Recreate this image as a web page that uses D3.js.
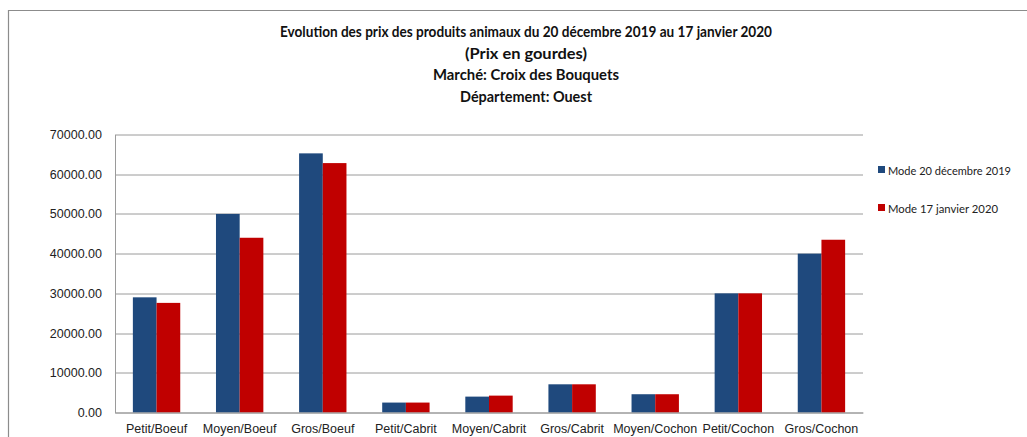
<!DOCTYPE html>
<html lang="fr">
<head>
<meta charset="UTF-8">
<script src="https://d3js.org/d3.v7.min.js"></script>
<style>
    body { margin: 0; background: #fff; }
    svg { display: block; font-family: Lato, "Open Sans", Arial, sans-serif; }
    .title { font-size: 14.5px; font-weight: bold; fill: #111; }
    .tick text { font-size: 12.5px; fill: #222; }
    .legend text { font-size: 12px; fill: #222; }
</style>
</head>
<body>
<div id="chart"></div>
<script>
    const categories = ["Petit/Boeuf", "Moyen/Boeuf", "Gros/Boeuf", "Petit/Cabrit", "Moyen/Cabrit",
        "Gros/Cabrit", "Moyen/Cochon", "Petit/Cochon", "Gros/Cochon"];
    const seriesNames = ["Mode 20 décembre 2019", "Mode 17 janvier 2020"];
    const dec2019 = [29000, 50000, 65250, 2500, 4000, 7100, 4600, 30000, 40000];
    const jan2020 = [27600, 44000, 62800, 2500, 4250, 7100, 4600, 30000, 43500];
    const yTicks = [0, 10000, 20000, 30000, 40000, 50000, 60000, 70000];
    const titleLines = [
        "Evolution des prix des produits animaux du 20 décembre 2019 au 17 janvier 2020",
        "(Prix en gourdes)",
        "Marché: Croix des Bouquets",
        "Département: Ouest"
    ];
    const colors = ["#1f497d", "#c00000"];

    const W = 1027, H = 437;
    const margin = {top: 134.5, left: 115, right: 164, bottom: 24.5};
    const width = W - margin.left - margin.right;
    const height = H - margin.top - margin.bottom;

    const svg = d3.select("#chart").append("svg")
        .attr("width", W)
        .attr("height", H);

    // outer frame
    svg.append("path")
        .attr("d", `M8.5,${H} V10.5 H${W}`)
        .attr("fill", "none")
        .attr("stroke", "#8c8c8c")
        .attr("stroke-width", 1.2);

    // titles
    const titleWidths = [492, 122, 186, 132];
    svg.selectAll(".title")
        .data(titleLines)
        .enter()
        .append("text")
        .attr("class", "title")
        .attr("x", 526)
        .attr("y", (d, i) => 37 + i * 21.5)
        .attr("text-anchor", "middle")
        .attr("textLength", (d, i) => titleWidths[i])
        .attr("lengthAdjust", "spacingAndGlyphs")
        .text(d => d);

    const g = svg.append("g")
        .attr("transform", `translate(${margin.left},${margin.top})`);

    const x = d3.scaleBand()
        .domain(categories)
        .range([0, width])
        .paddingInner(0.43)
        .paddingOuter(0.215);

    const xs = d3.scaleBand()
        .domain([0, 1])
        .range([0, x.bandwidth()]);

    const y = d3.scaleLinear()
        .domain([0, 70000])
        .range([height, 0]);

    // gridlines
    g.selectAll(".grid")
        .data(yTicks)
        .enter()
        .append("line")
        .attr("class", "grid")
        .attr("x1", 0)
        .attr("x2", width)
        .attr("y1", d => Math.round(y(d)) + 0.5)
        .attr("y2", d => Math.round(y(d)) + 0.5)
        .attr("stroke", "#9a9a9a")
        .attr("stroke-width", 1);

    // bars
    const rows = categories.map((c, i) => ({cat: c, vals: [dec2019[i], jan2020[i]]}));
    const groups = g.selectAll(".group")
        .data(rows)
        .enter()
        .append("g")
        .attr("transform", d => `translate(${x(d.cat)},0)`);

    groups.selectAll("rect")
        .data(d => d.vals.map((v, k) => ({v, k})))
        .enter()
        .append("rect")
        .attr("x", d => xs(d.k))
        .attr("width", xs.bandwidth())
        .attr("y", d => y(d.v))
        .attr("height", d => y(0) - y(d.v))
        .attr("fill", d => colors[d.k]);

    // y axis
    const yAxis = g.append("g")
        .call(d3.axisLeft(y).tickValues(yTicks).tickSize(0).tickPadding(13)
            .tickFormat(d3.format(".2f")));
    yAxis.select(".domain").attr("stroke", "#9a9a9a");

    // x axis
    const xAxis = g.append("g")
        .attr("transform", `translate(0,${height})`)
        .call(d3.axisBottom(x).tickSize(0).tickPadding(12));
    xAxis.select(".domain").attr("stroke", "#9a9a9a");

    // legend
    const legend = svg.append("g").attr("class", "legend")
        .attr("transform", "translate(878,0)");
    const items = legend.selectAll("g")
        .data(seriesNames)
        .enter()
        .append("g")
        .attr("transform", (d, i) => `translate(0,${170 + i * 38})`);
    items.append("rect")
        .attr("x", 0).attr("y", -4)
        .attr("width", 7).attr("height", 7)
        .attr("fill", (d, i) => colors[i]);
    items.append("text")
        .attr("x", 10).attr("y", 4.5)
        .attr("textLength", (d, i) => i === 0 ? 123 : 110)
        .attr("lengthAdjust", "spacingAndGlyphs")
        .text(d => d);
</script>
</body>
</html>
